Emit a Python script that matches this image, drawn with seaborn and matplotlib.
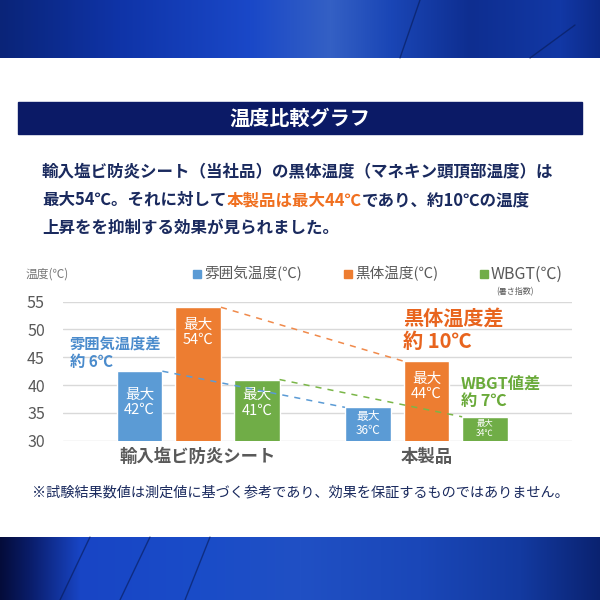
import numpy as np
import pandas as pd
import seaborn as sns
import matplotlib.pyplot as plt
from matplotlib.patches import Rectangle

sns.set_style('white')
plt.rcParams['font.family'] = ['Noto Sans CJK JP', 'DejaVu Sans']

# data
categories = ['輸入塩ビ防炎シート', '本製品']
series = ['雰囲気温度(℃)', '黒体温度(℃)', 'WBGT(℃)']
ambient = [42.5, 36.0]
blackbody = [54.0, 44.3]
wbgt = [41.0, 34.3]
bar_texts = [['最大\n42℃', '最大\n36℃'],
             ['最大\n54℃', '最大\n44℃'],
             ['最大\n41℃', '最大\n34℃']]
yticks = [30, 35, 40, 45, 50, 55]

colors = ['#5b9bd5', '#ed7d31', '#70ad47']
navy = '#1a2a5e'
gray = '#595959'

df = pd.DataFrame({
    'category': categories * 3,
    'series': [s for s in series for _ in categories],
    'value': ambient + blackbody + wbgt,
})

fig = plt.figure(figsize=(6, 6), dpi=100)

# background / decoration layer in pixel coordinates
bg = fig.add_axes([0, 0, 1, 1], zorder=-1)
bg.set_xlim(0, 600)
bg.set_ylim(600, 0)
bg.axis('off')


def band(xs, cols, h):
    cols = np.array([[int(c[i:i + 2], 16) / 255 for i in (1, 3, 5)] for c in cols])
    x = np.arange(600)
    row = np.stack([np.interp(x, xs, cols[:, k]) for k in range(3)], axis=-1)
    return np.repeat(row[None, :, :], h, axis=0)


top = band([0, 120, 250, 330, 390, 470, 560, 600],
           ['#0a2478', '#0f34a8', '#1a48c8', '#3460c4', '#1a46b6', '#0e2e90', '#1238a5', '#0c2a88'], 58)
bot = band([0, 30, 80, 200, 300, 420, 520, 600],
           ['#040c3a', '#0a1d6a', '#1845c5', '#1a4cc8', '#2050c4', '#1a47b8', '#133aa0', '#0a2270'], 63)
bg.imshow(top, extent=(0, 600, 58, 0), aspect='auto')
bg.imshow(bot, extent=(0, 600, 600, 537), aspect='auto')
for x0, x1, y0, y1 in [(420, 400, 0, 58), (575, 530, 25, 58),
                       (90, 60, 537, 600), (150, 120, 537, 600), (210, 185, 537, 600)]:
    bg.plot([x0, x1], [y0, y1], color='#071a55', lw=1.0, alpha=0.6)
bg.set_xlim(0, 600)
bg.set_ylim(600, 0)

# title bar
bg.add_patch(Rectangle((18, 102), 564, 32, color='#0b1a66'))
fig.text(300, 118, '温度比較グラフ', transform=bg.transData, ha='center', va='center',
         color='white', fontsize=14.5, fontweight='bold')

# paragraph
pkw = dict(fontsize=11.9, fontweight='bold', va='center')
fig.text(42, 171, '輸入塩ビ防炎シート（当社品）の黒体温度（マネキン頭頂部温度）は',
         transform=bg.transData, color=navy, **pkw)
t1 = fig.text(42, 200, '最大54℃。それに対して', transform=bg.transData, color=navy, **pkw)
t2 = bg.annotate('本製品は最大44℃', xy=(1, 0.5), xycoords=t1, color='#f07020', **pkw)
bg.annotate('であり、約10℃の温度', xy=(1, 0.5), xycoords=t2, color=navy, **pkw)
fig.text(42, 228, '上昇をを抑制する効果が見られました。', transform=bg.transData, color=navy, **pkw)

# chart
ax = fig.add_axes([63 / 600, 1 - 440.7 / 600, 509 / 600, 139 / 600])
ax.patch.set_alpha(0)
sns.barplot(data=df, x='category', y='value', hue='series', palette=colors,
            width=0.77, gap=0.22, saturation=1, legend=False, ax=ax)
ax.set_ylim(30, 55)
ax.set_xlim(-0.592, 1.638)
ax.set_yticks(yticks)
ax.yaxis.grid(True, color='#d9d9d9', lw=1)
ax.set_axisbelow(True)
sns.despine(ax=ax, left=True, bottom=True)
ax.tick_params(axis='y', length=0, pad=13, labelsize=11.5, labelcolor=gray)
ax.tick_params(axis='x', length=0, pad=5, labelsize=12.5, labelcolor=gray)
for lab in ax.get_xticklabels():
    lab.set_fontweight('bold')
ax.set_xlabel('')
ax.set_ylabel('')

# labels inside bars
label_sizes = [[10.5, 8.5], [10.5, 10.5], [10.5, 6.0]]
label_offsets = [[31, 16], [25, 25], [23, 12]]
for k, cont in enumerate(ax.containers):
    for j, p in enumerate(cont.patches):
        ax.annotate(bar_texts[k][j], xy=(p.get_x() + p.get_width() / 2, p.get_height()),
                    xytext=(0, -label_offsets[k][j] * 0.72), textcoords='offset points',
                    ha='center', va='center', color='white', fontsize=label_sizes[k][j],
                    linespacing=1.15)

# dashed difference lines, from first group bar top-right to second group bar top-left
dash_colors = ['#5b9bd5', '#f08a4b', '#7ab648']
for k, cont in enumerate(ax.containers):
    a, b = cont.patches[0], cont.patches[1]
    ax.plot([a.get_x() + a.get_width(), b.get_x()], [a.get_height(), b.get_height()],
            color=dash_colors[k], lw=1.1, ls=(0, (4, 4)), zorder=5)

# difference annotations
fig.text(70, 353, '雰囲気温度差\n約 6℃', transform=bg.transData, color='#4a8bcc',
         fontsize=11, fontweight='bold', va='center', linespacing=1.15)
fig.text(403, 330, '黒体温度差\n約 10℃', transform=bg.transData, color='#e8641e',
         fontsize=14.5, fontweight='bold', va='center', linespacing=1.15)
fig.text(461, 392, 'WBGT値差\n約 7℃', transform=bg.transData, color='#6aaa3a',
         fontsize=11.7, fontweight='bold', va='center', linespacing=1.1)

# legend and axis caption
fig.text(26, 274, '温度(℃)', transform=bg.transData, color='#777777', fontsize=8.5, va='center')
leg_x = [193, 344, 480]
leg_size = [10.5, 10.5, 11.5]
for x, c, s, fs in zip(leg_x, colors, series, leg_size):
    bg.add_patch(Rectangle((x, 270), 8, 8, color=c))
    fig.text(x + 11, 274, s, transform=bg.transData, color=gray, fontsize=fs, va='center')
fig.text(515, 292, '(暑さ指数)', transform=bg.transData, color=gray, fontsize=5.8,
         ha='center', va='center')

# footnote
fig.text(300, 492, '※試験結果数値は測定値に基づく参考であり、効果を保証するものではありません。',
         transform=bg.transData, color=navy, fontsize=10.2, ha='center', va='center')

fig.savefig('out.png', dpi=100)
